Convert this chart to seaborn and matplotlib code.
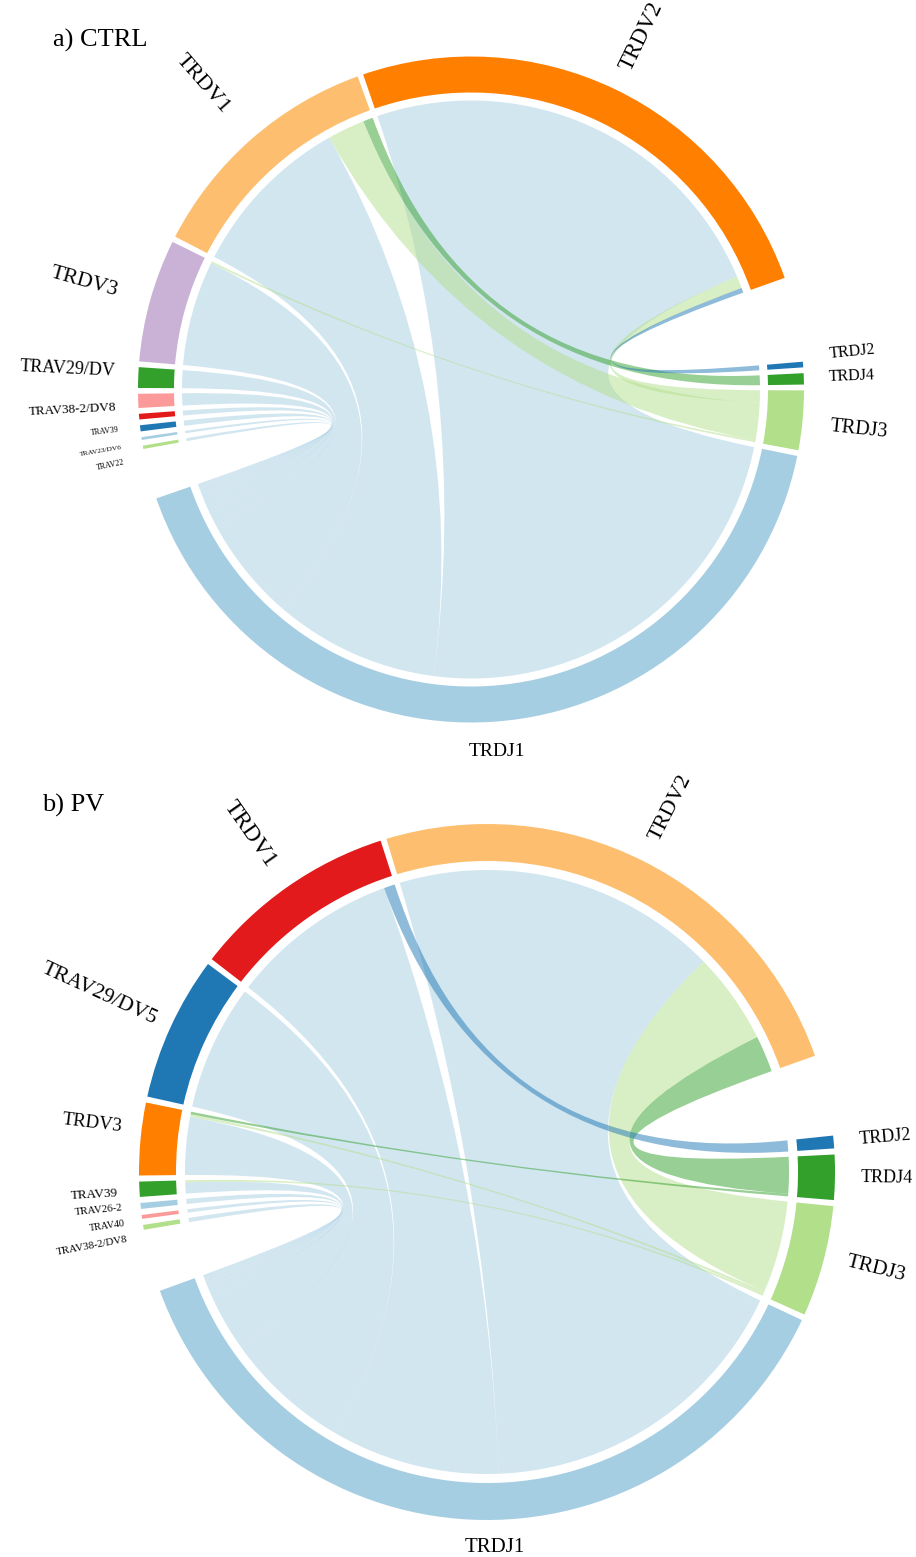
import numpy as np
import matplotlib.pyplot as plt
import seaborn as sns
from matplotlib.path import Path
from matplotlib.patches import PathPatch, Wedge

sns.set_theme(style="white")
plt.rcParams["font.family"] = ["Liberation Serif", "DejaVu Serif"]
pal = sns.color_palette("Paired")

# ── Data (share of rearrangements, %) ─────────────────────────────────────────
j_names = ["TRDJ1", "TRDJ3", "TRDJ4", "TRDJ2"]
j_colors = [pal[0], pal[2], pal[3], pal[1]]

ctrl_v_names = ["TRDV2", "TRDV1", "TRDV3", "TRAV29/DV", "TRAV38-2/DV8",
                "TRAV39", "TRAV23/DV6", "TRAV22", ""]
ctrl_v_colors = [pal[7], pal[6], pal[8], pal[3], pal[4], pal[5], pal[1], pal[0], pal[2]]
# rows = V segment, columns = TRDJ1, TRDJ3, TRDJ4, TRDJ2
ctrl_flows = [
    [52.6, 1.5, 0.0, 0.6],
    [20.4, 4.6, 1.2, 0.0],
    [12.9, 0.25, 0.0, 0.0],
    [2.2, 0.0, 0.0, 0.0],
    [1.5, 0.0, 0.0, 0.0],
    [0.6, 0.0, 0.0, 0.0],
    [0.65, 0.0, 0.0, 0.0],
    [0.3, 0.0, 0.0, 0.0],
    [0.35, 0.0, 0.0, 0.0],
]

pv_v_names = ["TRDV2", "TRDV1", "TRAV29/DV5", "TRDV3", "TRAV39",
              "TRAV26-2", "TRAV40", "TRAV38-2/DV8"]
pv_v_colors = [pal[6], pal[5], pal[1], pal[7], pal[3], pal[0], pal[4], pal[2]]
pv_flows = [
    [38.3, 10.8, 4.3, 0.0],
    [19.8, 0.0, 0.0, 1.3],
    [14.8, 0.0, 0.0, 0.0],
    [6.8, 0.3, 0.3, 0.0],
    [1.3, 0.25, 0.0, 0.0],
    [0.6, 0.0, 0.0, 0.0],
    [0.4, 0.0, 0.0, 0.0],
    [0.5, 0.0, 0.0, 0.0],
]

# label style: name -> (font size, distance from ring, angle shift)
ctrl_labels = {
    "TRDV2": (16.5, 22, 0), "TRDV1": (16, 38, 0), "TRDV3": (15.5, 34, 0),
    "TRAV29/DV": (13, 23, -0.8), "TRAV38-2/DV8": (9.5, 22, 1.0),
    "TRAV39": (5.8, 21, 1.8), "TRAV23/DV6": (5.3, 21, 2.8), "TRAV22": (5.8, 21, 3.3),
    "TRDJ2": (11.5, 27, 1.3), "TRDJ4": (11.5, 25, 0.2), "TRDJ3": (14.5, 28, -0.6),
    "TRDJ1": (14, 30, 0.3),
}
pv_labels = {
    "TRDV2": (16, 24, 0), "TRDV1": (17, 27, 0), "TRAV29/DV5": (15.5, 16, 0),
    "TRDV3": (13.5, 20, -1.5), "TRAV39": (9.5, 22, 0.4), "TRAV26-2": (7.8, 18, 0),
    "TRAV40": (7.2, 18, 0.7), "TRAV38-2/DV8": (7.8, 18, 1.4),
    "TRDJ2": (13, 26, 0), "TRDJ4": (13, 26, 0), "TRDJ3": (15, 23, 1.0),
    "TRDJ1": (15, 28, 3.8),
}

H = 1557


def pt(c, r, a):
    t = np.deg2rad(a)
    return (c[0] + r * np.cos(t), c[1] + r * np.sin(t))


def arc(c, r, a0, a1, n=60):
    return [pt(c, r, a) for a in np.linspace(a0, a1, n)]


def ribbon(ax, c, r, s0, s1, t0, t1, color):
    verts, codes = [], []
    p = arc(c, r, s0, s1)
    verts += p
    codes += [Path.MOVETO] + [Path.LINETO] * (len(p) - 1)
    verts += [c, pt(c, r, t0)]
    codes += [Path.CURVE3, Path.CURVE3]
    p = arc(c, r, t0, t1)[1:]
    verts += p
    codes += [Path.LINETO] * len(p)
    verts += [c, pt(c, r, s0), pt(c, r, s0)]
    codes += [Path.CURVE3, Path.CURVE3, Path.CLOSEPOLY]
    ax.add_patch(PathPatch(Path(verts, codes), facecolor=color, alpha=0.5,
                           edgecolor="none", lw=0))


def chord_panel(ax, v_names, v_colors, flows, geom, labels, title, title_xy):
    flows = np.array(flows)
    c = geom["center"]
    v_tot = flows.sum(axis=1)
    j_tot = flows.sum(axis=0)
    nv, nj = len(v_names), len(j_names)

    # clockwise order: first V, then J reversed, then the rest of V reversed
    order = [("v", 0)] + [("j", i) for i in range(nj - 1, -1, -1)] + \
            [("v", i) for i in range(nv - 1, 0, -1)]
    gaps = []
    for kind, i in order:
        if (kind, i) == ("v", 0):
            gaps.append(geom["gap_vj"])
        elif (kind, i) == ("j", 0):
            gaps.append(geom["gap_jv"])
        else:
            gaps.append(geom["gap"])
    k = (360 - sum(gaps)) / (v_tot.sum() + j_tot.sum())

    spans = {}
    a = geom["start"]
    for (kind, i), g in zip(order, gaps):
        tot = v_tot[i] if kind == "v" else j_tot[i]
        spans[(kind, i)] = (a, a - k * tot)
        a -= k * tot + g

    # sub-arcs for each flow
    v_sub, j_sub = {}, {}
    for i in range(nv):
        a = spans[("v", i)][0]
        for j in range(nj):
            w = k * flows[i, j]
            if w > 0:
                v_sub[(i, j)] = (a, a - w)
                a -= w
    for j in range(nj):
        a = spans[("j", j)][0]
        for i in range(nv):
            w = k * flows[i, j]
            if w > 0:
                j_sub[(i, j)] = (a, a - w)
                a -= w

    r_out, ring = geom["r_out"], geom["ring"]
    r_chord = r_out - ring - geom["pad"]
    for j in range(nj):
        for i in range(nv):
            if (i, j) in v_sub:
                s0, s1 = v_sub[(i, j)]
                t0, t1 = j_sub[(i, j)]
                ribbon(ax, c, r_chord, s0, s1, t0, t1, j_colors[j])

    for (kind, i), (a0, a1) in spans.items():
        col = v_colors[i] if kind == "v" else j_colors[i]
        name = v_names[i] if kind == "v" else j_names[i]
        ax.add_patch(Wedge(c, r_out, a1, a0, width=ring, facecolor=col,
                           edgecolor="none"))
        if not name:
            continue
        size, dist, shift = labels[name]
        mid = (a0 + a1) / 2 + shift
        m = mid % 360
        x, y = pt(c, r_out + dist, mid)
        if 240 < m < 300:
            ax.text(x, y, name, fontsize=size, ha="center", va="center",
                    color="black")
            continue
        if np.cos(np.deg2rad(m)) >= 0:
            rot, ha = (m + 180) % 360 - 180, "left"
        else:
            rot, ha = m - 180, "right"
        ax.text(x, y, name, fontsize=size, rotation=rot, rotation_mode="anchor",
                ha=ha, va="center", color="black")

    ax.text(title_xy[0], title_xy[1], title, fontsize=19, ha="left", va="center",
            color="black")


fig = plt.figure(figsize=(9.16, 15.57), dpi=100)
ax = fig.add_axes([0, 0, 1, 1])
ax.set_xlim(0, 916)
ax.set_ylim(0, H)
ax.axis("off")

ctrl_geom = dict(center=(471, H - 389.5), r_out=333, ring=36, pad=8,
                 start=108.9, gap=1.0, gap_vj=14.8, gap_jv=8.8)
pv_geom = dict(center=(487, H - 1172), r_out=348, ring=37, pad=9,
               start=106.8, gap=1.0, gap_vj=13.5, gap_jv=10.4)

chord_panel(ax, ctrl_v_names, ctrl_v_colors, ctrl_flows, ctrl_geom, ctrl_labels,
            "a) CTRL", (53, H - 40))
chord_panel(ax, pv_v_names, pv_v_colors, pv_flows, pv_geom, pv_labels,
            "b) PV", (42, H - 805))

fig.savefig("out.png", dpi=100)
